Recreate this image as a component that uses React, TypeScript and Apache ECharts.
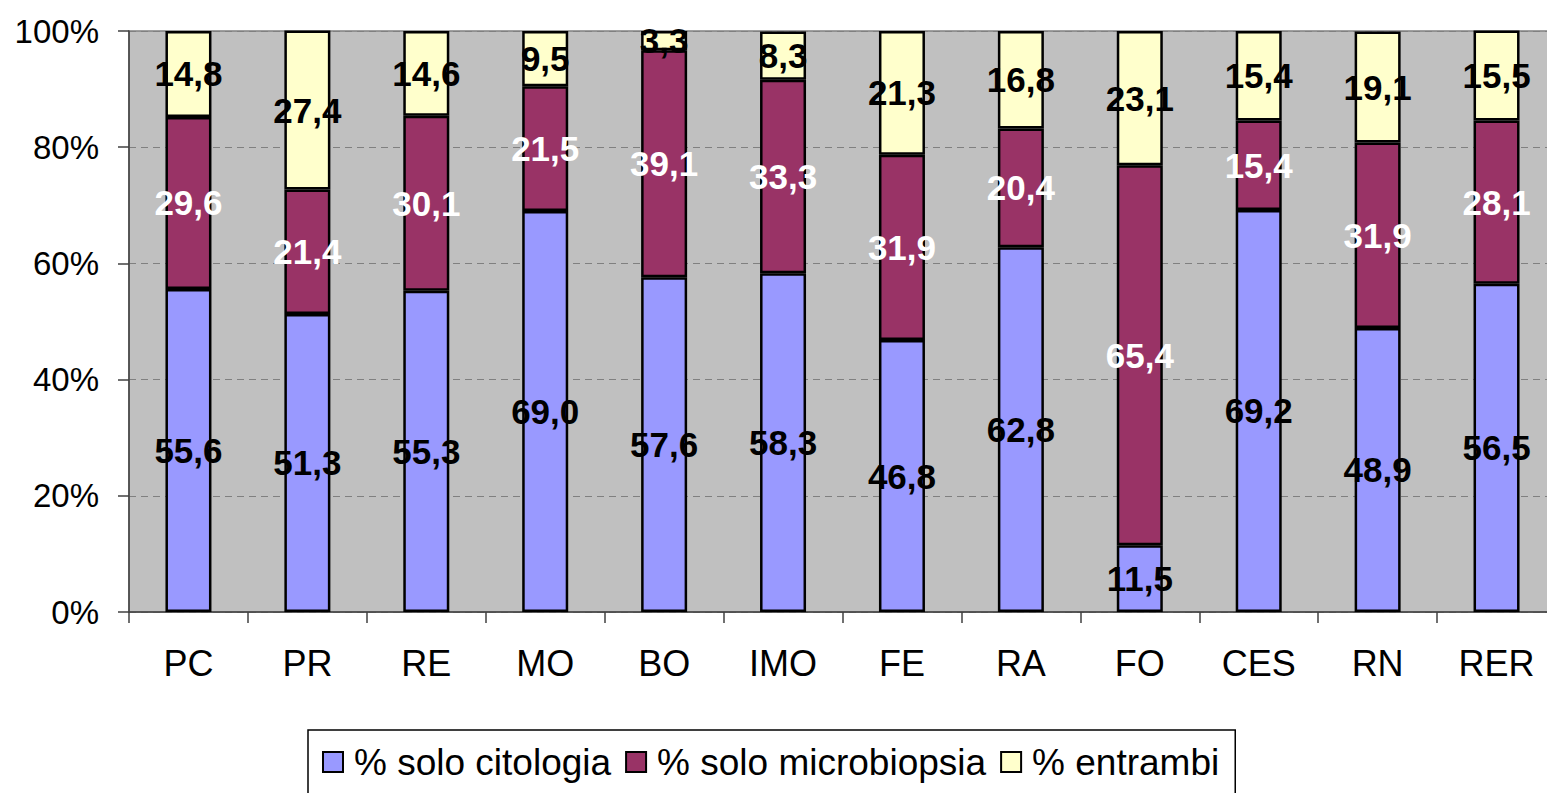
import React, { useEffect, useRef } from "react";
import * as echarts from "echarts";

const categories = ["PC", "PR", "RE", "MO", "BO", "IMO", "FE", "RA", "FO", "CES", "RN", "RER"];
const soloCitologia = [55.6, 51.3, 55.3, 69.0, 57.6, 58.3, 46.8, 62.8, 11.5, 69.2, 48.9, 56.5];
const soloMicrobiopsia = [29.6, 21.4, 30.1, 21.5, 39.1, 33.3, 31.9, 20.4, 65.4, 15.4, 31.9, 28.1];
const entrambi = [14.8, 27.4, 14.6, 9.5, 3.3, 8.3, 21.3, 16.8, 23.1, 15.4, 19.1, 15.5];
const seriesNames = ["% solo citologia", "% solo microbiopsia", "% entrambi"];
const yTicks = [0, 20, 40, 60, 80, 100];

const FONT = "Arial, 'Liberation Sans', sans-serif";

function fmt(v: number): string {
  return v.toFixed(1).replace(".", ",");
}

export default function App() {
  const ref = useRef<HTMLDivElement>(null);
  useEffect(() => {
    if (!ref.current) return;
    const chart = echarts.init(ref.current, undefined, { renderer: "svg" });
    const mk = (name: string, data: number[], color: string, labelColor: string) => ({
      name,
      type: "bar",
      stack: "total",
      data,
      barWidth: 46,
      itemStyle: { color, borderColor: "#000", borderWidth: 2.5 },
      label: {
        show: true,
        position: "inside",
        color: labelColor,
        fontFamily: FONT,
        fontWeight: "bold",
        fontSize: 35,
        formatter: (p: any) => fmt(p.value),
      },
    });
    chart.setOption({
      animation: false,
      backgroundColor: "#fff",
      grid: {
        left: 129,
        top: 31,
        right: 4,
        height: 581,
        show: true,
        backgroundColor: "#C0C0C0",
        borderColor: "#808080",
        borderWidth: 1.5,
      },
      legend: {
        left: 308,
        top: 730,
        orient: "horizontal",
        itemWidth: 20,
        itemHeight: 20,
        itemGap: 14,
        padding: [12, 16, 12, 14],
        borderColor: "#000",
        borderWidth: 1.5,
        backgroundColor: "#fff",
        icon: "rect",
        textStyle: { fontFamily: FONT, fontSize: 37, color: "#000", lineHeight: 40, padding: [0, 0, 0, 6] },
        itemStyle: { borderColor: "#000", borderWidth: 2 },
        data: seriesNames,
      },
      xAxis: {
        type: "category",
        data: categories,
        axisLine: { show: true, lineStyle: { color: "#404040", width: 1.5 } },
        axisTick: { show: true, length: 11, lineStyle: { color: "#404040", width: 1.5 } },
        axisLabel: { color: "#000", fontFamily: FONT, fontSize: 36, margin: 33 },
      },
      yAxis: {
        type: "value",
        min: yTicks[0],
        max: yTicks[yTicks.length - 1],
        interval: 20,
        axisLine: { show: true, lineStyle: { color: "#404040", width: 1.5 } },
        axisTick: { show: true, length: 11, lineStyle: { color: "#404040", width: 1.5 } },
        axisLabel: {
          color: "#000",
          fontFamily: FONT,
          fontSize: 33,
          margin: 30,
          formatter: (v: number) => v + "%",
        },
        splitLine: { show: true, lineStyle: { color: "#808080", type: [7, 5], width: 1 } },
      },
      series: [
        mk(seriesNames[0], soloCitologia, "#9999FF", "#000"),
        mk(seriesNames[1], soloMicrobiopsia, "#993366", "#fff"),
        mk(seriesNames[2], entrambi, "#FFFFCC", "#000"),
      ],
    });
    return () => chart.dispose();
  }, []);
  return (
    <div style={{ position: "absolute", left: 0, top: 0, width: 1547, height: 793, overflow: "hidden" }}>
      <div ref={ref} style={{ width: 1560, height: 793 }} />
    </div>
  );
}
